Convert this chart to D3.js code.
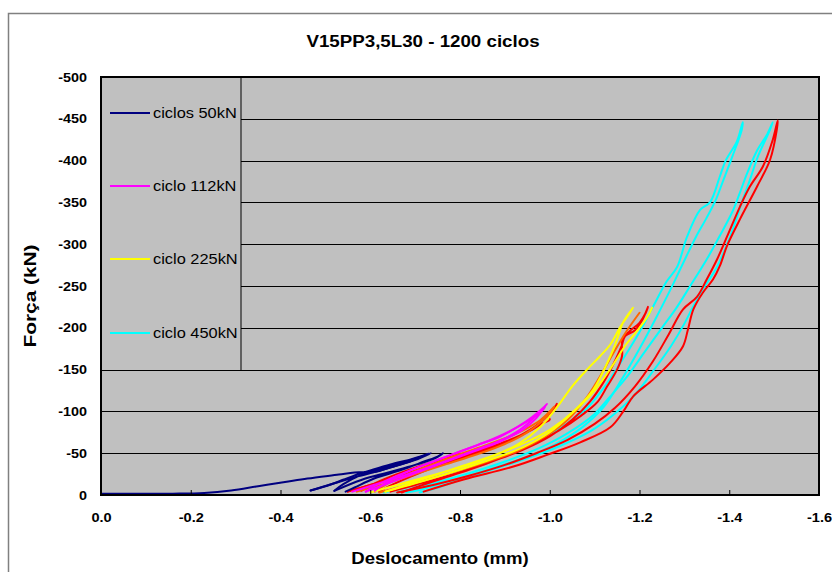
<!DOCTYPE html>
<html><head><meta charset="utf-8">
<script src="https://cdn.jsdelivr.net/npm/d3@7"></script>
<style>
body{margin:0;background:#fff}
svg{display:block}
text{font-family:Arial,"Liberation Sans",sans-serif;fill:#000}
</style>
</head><body>
<svg id="chart" width="832" height="572"></svg>
<script>
// ---------------- data ----------------
const chartTitle = "V15PP3,5L30 - 1200 ciclos";
const xLabel = "Deslocamento (mm)";
const yLabel = "Força (kN)";
const xTicks = [0, -0.2, -0.4, -0.6, -0.8, -1.0, -1.2, -1.4, -1.6];
const yTicks = [0, -50, -100, -150, -200, -250, -300, -350, -400, -450, -500];
const legendLabels = ["ciclos 50kN", "ciclo 112kN", "ciclo 225kN", "ciclo 450kN"];
const legendColors = ["#000080", "#FF00FF", "#FFFF00", "#00FFFF"];

// each loop: [displacement (mm), force (kN)]
const navyLoops = [
  [[0,-1.5],[-0.09,-1.5],[-0.16,-1.6],[-0.23,-2.4],[-0.29,-5.4],[-0.35,-10.5],[-0.41,-15.5],[-0.46,-19.7],[-0.53,-24.5],[-0.565,-27],[-0.61,-27.5],[-0.645,-33],[-0.69,-40.4],[-0.73,-49.6],
   [-0.712,-46],[-0.69,-42.5],[-0.645,-36.5],[-0.607,-30.5],[-0.572,-24.5],[-0.541,-18.5],[-0.512,-12.6],[-0.467,-5.4]],
  [[-0.467,-5.4],[-0.52,-14],[-0.57,-22],[-0.62,-29],[-0.67,-37],[-0.71,-44],[-0.735,-50],[-0.72,-47],[-0.68,-40],[-0.63,-33],[-0.58,-24],[-0.54,-13],[-0.52,-5]],
  [[-0.52,-5],[-0.58,-18],[-0.64,-27],[-0.7,-36],[-0.745,-44],[-0.762,-50],[-0.75,-46],[-0.72,-40],[-0.67,-30],[-0.61,-20],[-0.565,-9],[-0.545,-4]]
];
const magentaLoops = [
  [[-0.56,-4],[-0.62,-14],[-0.68,-24],[-0.74,-35],[-0.8,-47],[-0.845,-56],[-0.88,-63],[-0.919,-73],[-0.95,-85],[-0.975,-98],[-0.994,-109],
   [-0.985,-104],[-0.96,-93],[-0.93,-82],[-0.89,-70],[-0.84,-60],[-0.78,-48],[-0.72,-36],[-0.66,-23],[-0.61,-11],[-0.59,-4]],
  [[-0.59,-4],[-0.65,-16],[-0.71,-28],[-0.77,-40],[-0.83,-52],[-0.89,-64],[-0.94,-78],[-0.97,-92],[-0.99,-106],[-0.982,-100],[-0.95,-88],[-0.91,-76],[-0.86,-64],[-0.8,-52],[-0.74,-40],[-0.68,-27],[-0.63,-13],[-0.61,-5]]
];
const orangeLoops = [
  [[-0.57,-4],[-0.63,-13],[-0.7,-25],[-0.77,-37],[-0.84,-49],[-0.9,-61],[-0.95,-75],[-0.99,-92],[-1.01,-106],[-1.0,-100],[-0.98,-90],[-0.95,-80],[-0.91,-70],[-0.86,-60],[-0.8,-49],[-0.74,-37],[-0.68,-24],[-0.63,-11],[-0.61,-4]],
  [[-0.62,-3],[-0.69,-13],[-0.77,-25],[-0.85,-38],[-0.93,-53],[-0.99,-70],[-1.04,-90],[-1.08,-115],[-1.11,-140],[-1.14,-168],[-1.17,-195],[-1.2,-218]]
];
const yellowLoops = [
  [[-0.6,-3],[-0.66,-12],[-0.72,-21],[-0.8,-33],[-0.87,-46],[-0.93,-61],[-0.98,-82],[-1.023,-110],[-1.05,-130],[-1.083,-150],[-1.112,-166],[-1.135,-180],[-1.157,-201],[-1.175,-215],[-1.186,-224],
   [-1.183,-222],[-1.163,-206],[-1.15,-186],[-1.135,-166],[-1.097,-126],[-1.057,-102],[-1.0,-78],[-0.934,-60],[-0.868,-46],[-0.8,-34],[-0.734,-22],[-0.667,-10],[-0.634,-4]],
  [[-0.634,-4],[-0.7,-14],[-0.78,-27],[-0.86,-41],[-0.94,-57],[-1.0,-75],[-1.05,-98],[-1.1,-125],[-1.14,-155],[-1.17,-180],[-1.2,-200],[-1.22,-215],[-1.228,-224]]
];
const cyanLoops = [
  [[-0.63,-3],[-0.7,-12],[-0.78,-24],[-0.86,-38],[-0.94,-55],[-1.0,-72],[-1.05,-90],[-1.085,-105],[-1.12,-128],[-1.16,-160],[-1.2,-195],[-1.23,-225],[-1.26,-255],[-1.284,-273],[-1.306,-309],[-1.335,-341],[-1.357,-350],[-1.379,-381],[-1.392,-400],[-1.417,-423],[-1.43,-446],
   [-1.428,-437],[-1.407,-405],[-1.385,-374],[-1.37,-353],[-1.348,-330],[-1.326,-309],[-1.304,-285],[-1.28,-258],[-1.258,-234],[-1.235,-210],[-1.2,-175],[-1.16,-138],[-1.12,-105],[-1.07,-80],[-1.01,-60],[-0.94,-44],[-0.86,-30],[-0.78,-17],[-0.71,-6],[-0.68,-3]],
  [[-0.66,-3],[-0.74,-14],[-0.82,-26],[-0.9,-40],[-0.98,-57],[-1.04,-74],[-1.1,-97],[-1.13,-115],[-1.17,-140],[-1.21,-170],[-1.25,-200],[-1.28,-222],[-1.313,-250],[-1.35,-282],[-1.379,-310],[-1.408,-340],[-1.424,-362],[-1.44,-385],[-1.462,-412],[-1.485,-432],[-1.497,-446],
   [-1.491,-437],[-1.464,-405],[-1.446,-377],[-1.428,-350],[-1.408,-318],[-1.373,-273],[-1.341,-246],[-1.319,-225],[-1.3,-205],[-1.27,-178],[-1.23,-148],[-1.19,-120],[-1.14,-95],[-1.09,-76],[-1.02,-58],[-0.95,-44],[-0.87,-30],[-0.8,-18],[-0.74,-7],[-0.71,-3]]
];
const redLoops = [
  [[-0.55,-4],[-0.6,-12],[-0.66,-22],[-0.72,-33],[-0.77,-43],[-0.8,-50],[-0.78,-46],[-0.73,-38],[-0.67,-27],[-0.61,-14],[-0.58,-5]],
  [[-0.55,-4],[-0.6,-12],[-0.65,-19],[-0.7,-27],[-0.76,-37],[-0.82,-47],[-0.88,-58],[-0.93,-70],[-0.97,-83],[-1.0,-97],[-1.016,-109],[-1.01,-104],[-0.995,-96],[-1.0,-90],[-0.985,-86],[-0.96,-78],[-0.92,-68],[-0.87,-58],[-0.81,-47],[-0.75,-35],[-0.69,-22],[-0.64,-10],[-0.62,-4]],
  [[-0.645,-4],[-0.7,-12],[-0.78,-24],[-0.86,-38],[-0.94,-54],[-1.0,-70],[-1.05,-90],[-1.09,-112],[-1.12,-135],[-1.145,-160],[-1.16,-178],[-1.168,-190],[-1.19,-197],[-1.206,-209],[-1.219,-225],
   [-1.214,-218],[-1.2,-206],[-1.178,-196],[-1.162,-186],[-1.161,-166],[-1.15,-150],[-1.128,-130],[-1.106,-111],[-1.07,-95],[-1.02,-77],[-0.96,-60],[-0.89,-44],[-0.82,-30],[-0.75,-18],[-0.69,-7],[-0.67,-3]],
  [[-0.66,-3],[-0.74,-12],[-0.82,-23],[-0.9,-36],[-0.97,-50],[-1.04,-66],[-1.1,-85],[-1.145,-104],[-1.19,-130],[-1.23,-160],[-1.265,-192],[-1.297,-222],[-1.328,-237],[-1.35,-258],[-1.373,-282],[-1.395,-309],[-1.424,-345],[-1.446,-369],[-1.475,-393],[-1.497,-425],[-1.508,-448],
   [-1.506,-437],[-1.491,-401],[-1.462,-369],[-1.424,-330],[-1.395,-298],[-1.379,-274],[-1.364,-258],[-1.341,-242],[-1.32,-222],[-1.308,-198],[-1.297,-178],[-1.268,-158],[-1.23,-138],[-1.186,-118],[-1.164,-100],[-1.135,-81],[-1.068,-63],[-0.994,-48],[-0.919,-34],[-0.808,-18.5],[-0.719,-4]]
];

const seriesList = [
  {loops: cyanLoops,    color: "#00FFFF"},
  {loops: redLoops,     color: "#FF0000"},
  {loops: orangeLoops,  color: "#FF6600"},
  {loops: yellowLoops,  color: "#FFFF00"},
  {loops: magentaLoops, color: "#FF00FF"},
  {loops: navyLoops,    color: "#000080"}
];

// ---------------- layout ----------------
const svg = d3.select("#chart");
const L = 101, R = 819, T = 77, B = 495;
const x = d3.scaleLinear().domain([0, -1.6]).range([L, R]);
const y = d3.scaleLinear().domain([0, -500]).range([B, T]);
function stretch(sel, f) {
  sel.each(function() {
    const w = this.getComputedTextLength();
    d3.select(this).attr("textLength", w * f).attr("lengthAdjust", "spacingAndGlyphs");
  });
}

// outer frame
svg.append("path").attr("d", "M8.5,600 V13.5 H840").attr("fill", "none").attr("stroke", "#808080").attr("stroke-width", 1.5);

// title
const t = svg.append("text").attr("x", 423).attr("y", 47).attr("text-anchor", "middle")
  .attr("font-weight", "bold").attr("font-size", 16).text(chartTitle);
stretch(t, 1.17);

// plot background
svg.append("rect").attr("x", L).attr("y", T).attr("width", R - L).attr("height", B - T).attr("fill", "#C0C0C0");

// gridlines
svg.append("g").selectAll("line").data(yTicks.filter(v => v !== 0 && v !== -500)).join("line")
  .attr("x1", L).attr("x2", R).attr("y1", d => Math.round(y(d)) + 0.5).attr("y2", d => Math.round(y(d)) + 0.5)
  .attr("stroke", "#000").attr("stroke-width", 1);

// legend box
const legBottom = Math.round(y(-150)) + 0.5;
svg.append("rect").attr("x", L).attr("y", T).attr("width", 241 - L).attr("height", legBottom - T)
  .attr("fill", "#C0C0C0").attr("stroke", "#000").attr("stroke-width", 1);
const legY = [113, 186, 259, 333];
const leg = svg.append("g").selectAll("g").data(legendLabels).join("g")
  .attr("transform", (d, i) => `translate(0,${legY[i]})`);
leg.append("line").attr("x1", 110).attr("x2", 150).attr("y1", 0).attr("y2", 0)
  .attr("stroke", (d, i) => legendColors[i]).attr("stroke-width", 2);
const legText = leg.append("text").attr("x", 153).attr("dy", "0.36em").attr("font-size", 14).text(d => d);
stretch(legText, 1.17);

// curves
const line = d3.line().x(d => x(d[0])).y(d => y(d[1])).curve(d3.curveCatmullRom.alpha(0.5));
const curves = svg.append("g").attr("fill", "none").attr("stroke-width", 2).attr("stroke-linejoin", "round").attr("stroke-linecap", "round");
seriesList.forEach(s => {
  curves.append("g").attr("stroke", s.color).selectAll("path").data(s.loops).join("path").attr("d", line);
});

// plot border
svg.append("rect").attr("x", L).attr("y", T).attr("width", R - L).attr("height", B - T)
  .attr("fill", "none").attr("stroke", "#000").attr("stroke-width", 2);

// x axis
const xAxis = svg.append("g").attr("transform", `translate(0,${B})`)
  .call(d3.axisBottom(x).tickValues(xTicks).tickSizeInner(-5).tickSizeOuter(0).tickPadding(18).tickFormat(d => d.toFixed(1)));
xAxis.select(".domain").remove();
xAxis.selectAll("line").attr("stroke", "#000").attr("stroke-width", 1);
xAxis.selectAll("text").attr("font-size", 13).attr("font-weight", "bold").attr("font-family", "Arial, 'Liberation Sans', sans-serif");
stretch(xAxis.selectAll("text"), 1.12);

// y axis
const yAxis = svg.append("g").attr("transform", `translate(${L},0)`)
  .call(d3.axisLeft(y).tickValues(yTicks).tickSize(0).tickPadding(14).tickFormat(d => String(d)));
yAxis.select(".domain").remove();
yAxis.selectAll("text").attr("font-size", 12.5).attr("font-weight", "bold").attr("font-family", "Arial, 'Liberation Sans', sans-serif");
stretch(yAxis.selectAll("text"), 1.15);

// axis titles
const xt = svg.append("text").attr("x", 440).attr("y", 564).attr("text-anchor", "middle")
  .attr("font-weight", "bold").attr("font-size", 16).text(xLabel);
stretch(xt, 1.16);
const yt = svg.append("text").attr("transform", "translate(36,296) rotate(-90)").attr("text-anchor", "middle")
  .attr("font-weight", "bold").attr("font-size", 16).text(yLabel);
stretch(yt, 1.3);
</script>
</body></html>
